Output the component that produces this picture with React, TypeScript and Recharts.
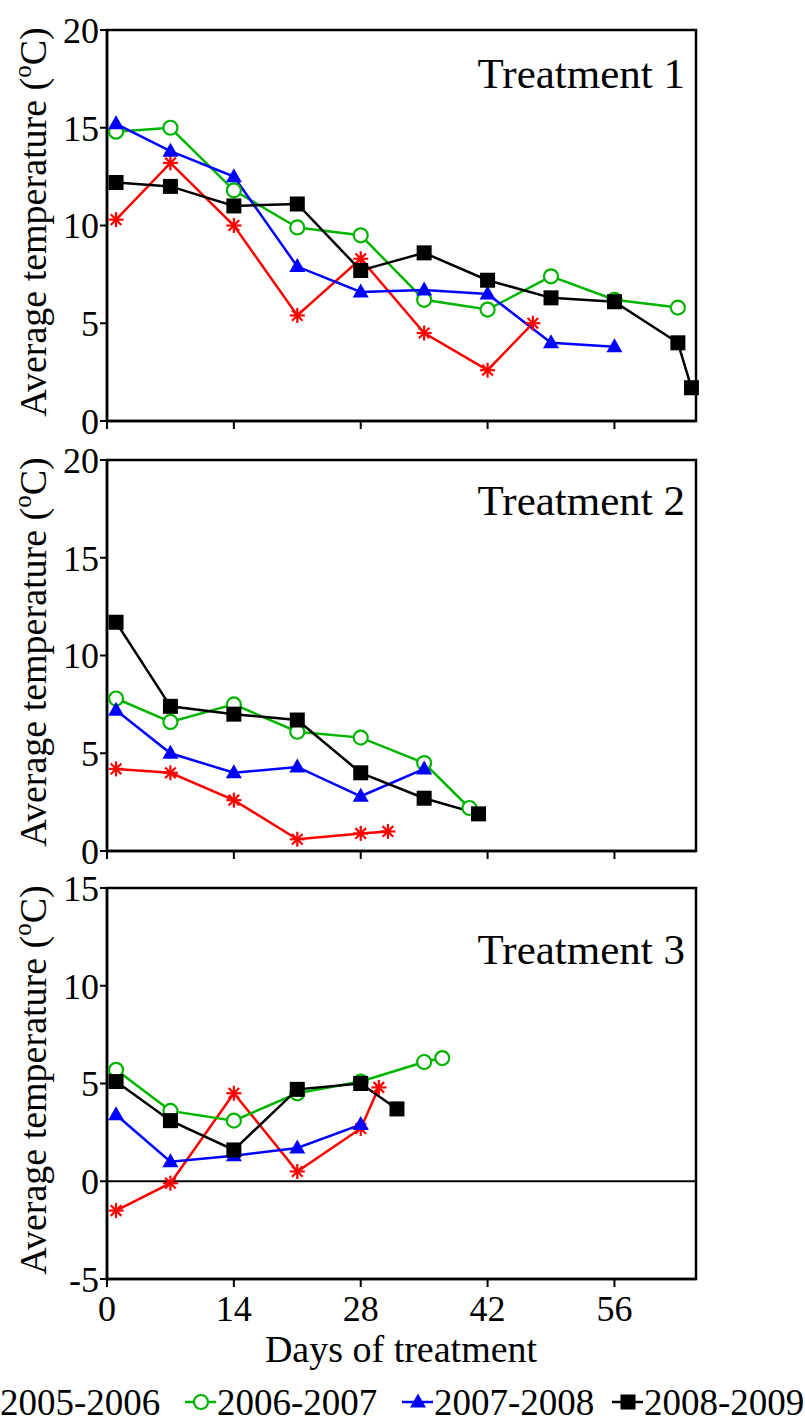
import React from "react"
import { LineChart, Line, XAxis, YAxis, ReferenceArea, ReferenceLine } from "recharts"

const FONT = "Liberation Serif, Tinos, Times New Roman, DejaVu Serif, serif"

const X_TICKS = [0, 14, 28, 42, 56]
const SEASONS = ["2005-2006", "2006-2007", "2007-2008", "2008-2009"]

// Treatment 1
const T1_RED_DAYS = [1, 7, 14, 21, 28, 35, 42, 47]
const T1_RED_TEMP = [10.3, 13.2, 10.0, 5.4, 8.3, 4.5, 2.6, 5.0]
const T1_GREEN_DAYS = [1, 7, 14, 21, 28, 35, 42, 49, 56, 63]
const T1_GREEN_TEMP = [14.8, 15.0, 11.8, 9.9, 9.5, 6.2, 5.7, 7.4, 6.2, 5.8]
const T1_BLUE_DAYS = [1, 7, 14, 21, 28, 35, 42, 49, 56]
const T1_BLUE_TEMP = [15.2, 13.8, 12.5, 7.9, 6.6, 6.7, 6.5, 4.0, 3.8]
const T1_BLACK_DAYS = [1, 7, 14, 21, 28, 35, 42, 49, 56, 63, 64.5]
const T1_BLACK_TEMP = [12.2, 12.0, 11.0, 11.1, 7.7, 8.6, 7.2, 6.3, 6.1, 4.0, 1.7]

// Treatment 2
const T2_RED_DAYS = [1, 7, 14, 21, 28, 31]
const T2_RED_TEMP = [4.2, 4.0, 2.6, 0.6, 0.9, 1.0]
const T2_GREEN_DAYS = [1, 7, 14, 21, 28, 35, 40]
const T2_GREEN_TEMP = [7.8, 6.6, 7.5, 6.1, 5.8, 4.5, 2.2]
const T2_BLUE_DAYS = [1, 7, 14, 21, 28, 35]
const T2_BLUE_TEMP = [7.2, 5.0, 4.0, 4.3, 2.8, 4.2]
const T2_BLACK_DAYS = [1, 7, 14, 21, 28, 35, 41]
const T2_BLACK_TEMP = [11.7, 7.4, 7.0, 6.7, 4.0, 2.7, 1.9]

// Treatment 3
const T3_RED_DAYS = [1, 7, 14, 21, 28, 30]
const T3_RED_TEMP = [-1.5, -0.1, 4.5, 0.5, 2.7, 4.8]
const T3_GREEN_DAYS = [1, 7, 14, 21, 28, 35, 37]
const T3_GREEN_TEMP = [5.7, 3.6, 3.1, 4.5, 5.1, 6.1, 6.3]
const T3_BLUE_DAYS = [1, 7, 14, 21, 28]
const T3_BLUE_TEMP = [3.4, 1.0, 1.3, 1.7, 2.9]
const T3_BLACK_DAYS = [1, 7, 14, 21, 28, 32]
const T3_BLACK_TEMP = [5.1, 3.1, 1.6, 4.7, 5.0, 3.7]

const zip = (days: number[], temps: number[]) => days.map((day, i) => ({ day, temp: temps[i] }))

const RED = "#ff0000"
const GREEN = "#00b400"
const BLUE = "#0000ff"
const BLACK = "#000000"

function starShape(cx: number, cy: number, key?: any) {
  const r = 7.5
  const d = r * 0.707
  return (
    <g key={key} stroke={RED} strokeWidth={2.2}>
      <line x1={cx - r} y1={cy} x2={cx + r} y2={cy} />
      <line x1={cx} y1={cy - r} x2={cx} y2={cy + r} />
      <line x1={cx - d} y1={cy - d} x2={cx + d} y2={cy + d} />
      <line x1={cx - d} y1={cy + d} x2={cx + d} y2={cy - d} />
    </g>
  )
}
function circleShape(cx: number, cy: number, key?: any) {
  return <circle key={key} cx={cx} cy={cy} r={7} fill="#fff" stroke={GREEN} strokeWidth={2.2} />
}
function triangleShape(cx: number, cy: number, key?: any) {
  return <polygon key={key} points={`${cx},${cy - 8.5} ${cx - 8},${cy + 5.5} ${cx + 8},${cy + 5.5}`} fill={BLUE} />
}
function squareShape(cx: number, cy: number, key?: any) {
  return <rect key={key} x={cx - 7.5} y={cy - 7.5} width={15} height={15} fill={BLACK} />
}

const SHAPES = [starShape, circleShape, triangleShape, squareShape]
const COLORS = [RED, GREEN, BLUE, BLACK]

type PanelProps = {
  top: number
  yDomain: [number, number]
  yTicks: number[]
  series: { day: number; temp: number }[][]
  labels: boolean
  zeroLine?: boolean
}

function Panel({ top, yDomain, yTicks, series, labels, zeroLine }: PanelProps) {
  const plotH = 391
  const axisH = labels ? 60 : 20
  return (
    <div style={{ position: "absolute", left: 0, top: top - 20 }}>
      <LineChart width={805} height={20 + plotH + axisH} margin={{ top: 20, right: 109, left: 37, bottom: 0 }}>
        <XAxis
          type="number"
          dataKey="day"
          domain={[0, 65]}
          ticks={X_TICKS}
          interval={0}
          height={axisH}
          tickSize={8}
          tickMargin={8}
          axisLine={{ stroke: "#000", strokeWidth: 2.5 }}
          tickLine={{ stroke: "#000", strokeWidth: 2 }}
          tick={{ fontSize: 36, fill: "#000", fontFamily: FONT }}
          tickFormatter={(v: number) => (labels ? String(v) : "")}
        />
        <YAxis
          type="number"
          domain={yDomain}
          ticks={yTicks}
          interval={0}
          width={70}
          tickSize={7}
          tickMargin={1}
          axisLine={{ stroke: "#000", strokeWidth: 2.5 }}
          tickLine={{ stroke: "#000", strokeWidth: 2 }}
          tick={{ fontSize: 36, fill: "#000", fontFamily: FONT }}
        />
        <ReferenceArea x1={0} x2={65} y1={yDomain[0]} y2={yDomain[1]} fill="none" fillOpacity={0} stroke="#000" strokeWidth={2.5} />
        {zeroLine && <ReferenceLine y={0} stroke="#000" strokeWidth={2} />}
        {series.map((data, i) => (
          <Line
            key={i}
            data={data}
            dataKey="temp"
            type="linear"
            stroke={COLORS[i]}
            strokeWidth={2.5}
            isAnimationActive={false}
            dot={(p: any) => SHAPES[i](p.cx, p.cy, p.index)}
            activeDot={false}
          />
        ))}
      </LineChart>
    </div>
  )
}

function YTitle({ cy }: { cy: number }) {
  return (
    <text x={46} y={cy} transform={`rotate(-90 46 ${cy})`} textAnchor="middle" fontSize={38} fontFamily={FONT} fill="#000">
      Average temperature (<tspan fontSize={25} dy={-15}>o</tspan><tspan dy={15}>C)</tspan>
    </text>
  )
}

export default function App() {
  const legendX = [0, 217, 434, 644]
  return (
    <div style={{ position: "absolute", left: 0, top: 0, width: 805, height: 1422, overflow: "hidden", background: "#fff", fontFamily: FONT }}>
      <Panel
        top={30}
        yDomain={[0, 20]}
        yTicks={[0, 5, 10, 15, 20]}
        labels={false}
        series={[zip(T1_RED_DAYS, T1_RED_TEMP), zip(T1_GREEN_DAYS, T1_GREEN_TEMP), zip(T1_BLUE_DAYS, T1_BLUE_TEMP), zip(T1_BLACK_DAYS, T1_BLACK_TEMP)]}
      />
      <Panel
        top={460}
        yDomain={[0, 20]}
        yTicks={[0, 5, 10, 15, 20]}
        labels={false}
        series={[zip(T2_RED_DAYS, T2_RED_TEMP), zip(T2_GREEN_DAYS, T2_GREEN_TEMP), zip(T2_BLUE_DAYS, T2_BLUE_TEMP), zip(T2_BLACK_DAYS, T2_BLACK_TEMP)]}
      />
      <Panel
        top={888}
        yDomain={[-5, 15]}
        yTicks={[-5, 0, 5, 10, 15]}
        labels={true}
        zeroLine
        series={[zip(T3_RED_DAYS, T3_RED_TEMP), zip(T3_GREEN_DAYS, T3_GREEN_TEMP), zip(T3_BLUE_DAYS, T3_BLUE_TEMP), zip(T3_BLACK_DAYS, T3_BLACK_TEMP)]}
      />
      <svg width={805} height={1422} style={{ position: "absolute", left: 0, top: 0, pointerEvents: "none" }}>
        <text x={685} y={88} textAnchor="end" fontSize={43} fontFamily={FONT}>Treatment 1</text>
        <text x={685} y={515} textAnchor="end" fontSize={43} fontFamily={FONT}>Treatment 2</text>
        <text x={685} y={964} textAnchor="end" fontSize={43} fontFamily={FONT}>Treatment 3</text>
        <YTitle cy={222} />
        <YTitle cy={652} />
        <YTitle cy={1080} />
        <text x={401} y={1362} textAnchor="middle" fontSize={38} fontFamily={FONT}>Days of treatment</text>
        {SEASONS.map((s, i) => (
          <g key={s}>
            <line x1={legendX[i] - 32} x2={legendX[i] - 1} y1={1402} y2={1402} stroke={COLORS[i]} strokeWidth={2.5} />
            {SHAPES[i](legendX[i] - 16, 1402)}
            <text x={legendX[i]} y={1415} fontSize={37} fontFamily={FONT}>{s}</text>
          </g>
        ))}
      </svg>
    </div>
  )
}
